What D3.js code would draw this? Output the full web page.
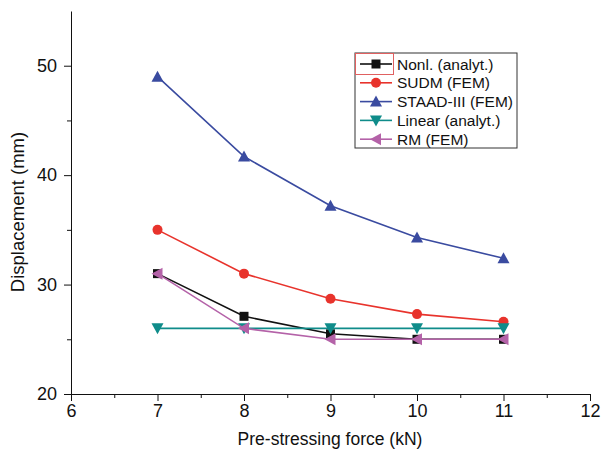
<!DOCTYPE html>
<html>
<head>
<meta charset="utf-8">
<script src="https://cdn.jsdelivr.net/npm/d3@7"></script>
<style>
  body { margin: 0; background: #fff; }
  text { font-family: "Liberation Sans", Arial, sans-serif; }
</style>
</head>
<body>
<svg width="601" height="455"></svg>
<script>
var forces = [7, 8, 9, 10, 11];
var nonl   = [31, 27.1, 25.5, 25, 25];
var sudm   = [35, 31, 28.7, 27.3, 26.6];
var staad  = [49, 41.7, 37.2, 34.3, 32.4];
var linear = [26, 26, 26, 26, 26];
var rm     = [31, 26, 25, 25, 25];

var seriesNames = ["Nonl. (analyt.)", "SUDM (FEM)", "STAAD-III (FEM)", "Linear (analyt.)", "RM (FEM)"];
var seriesVals = [nonl, sudm, staad, linear, rm];
var colors = ["#111111", "#e8332c", "#3a4ba0", "#0f8c8a", "#b462a8"];
var symbols = ["square", "circle", "up", "down", "left"];

var xTicks = [6, 7, 8, 9, 10, 11, 12];
var yTicks = [20, 30, 40, 50];

var svg = d3.select("svg");

var x = d3.scaleLinear().domain([6, 12]).range([71, 590]);
var y = d3.scaleLinear().domain([20, 55]).range([394, 11]);

// minor ticks
svg.append("g")
    .attr("transform", "translate(0,394)")
    .call(d3.axisBottom(x).tickValues(d3.range(6.5, 12, 1)).tickSize(4).tickFormat(""))
    .call(function(g) { g.select(".domain").remove(); });
svg.append("g")
    .attr("transform", "translate(71,0)")
    .call(d3.axisLeft(y).tickValues([25, 35, 45]).tickSize(4).tickFormat(""))
    .call(function(g) { g.select(".domain").remove(); });

var xAxis = svg.append("g")
    .attr("transform", "translate(0,394)")
    .call(d3.axisBottom(x).tickValues(xTicks).tickSize(7).tickSizeOuter(0)
      .tickPadding(3).tickFormat(d3.format("d")));
xAxis.selectAll("text").style("font-size", "18px").attr("fill", "#111");

var yAxis = svg.append("g")
    .attr("transform", "translate(71,0)")
    .call(d3.axisLeft(y).tickValues(yTicks).tickSize(7).tickSizeOuter(0)
      .tickPadding(7).tickFormat(d3.format("d")));
yAxis.selectAll("text").style("font-size", "18px").attr("fill", "#111");

svg.selectAll(".domain, .tick line").attr("stroke", "#111");

svg.append("text")
    .attr("x", 330).attr("y", 445)
    .attr("text-anchor", "middle")
    .style("font-size", "17.5px")
    .attr("fill", "#111")
    .text("Pre-stressing force (kN)");

svg.append("text")
    .attr("transform", "translate(24,212) rotate(-90)")
    .attr("text-anchor", "middle")
    .style("font-size", "18.5px")
    .attr("fill", "#111")
    .text("Displacement (mm)");

function drawMarker(g, type, color) {
  if (type == "square") {
    g.append("rect").attr("x", -4.5).attr("y", -4.5).attr("width", 9).attr("height", 9).attr("fill", color);
  } else if (type == "circle") {
    g.append("circle").attr("r", 5).attr("fill", color);
  } else {
    var pts = {
      up: "0,-6 6,5 -6,5",
      down: "0,6 6,-5 -6,-5",
      left: "-6,0 5,-6 5,6"
    }[type];
    g.append("polygon").attr("points", pts).attr("fill", color);
  }
}

var line = d3.line()
    .x(function(d) { return x(d[0]); })
    .y(function(d) { return y(d[1]); });

seriesVals.forEach(function(vals, i) {
  var pts = forces.map(function(f, j) { return [f, vals[j]]; });
  svg.append("path")
      .attr("d", line(pts))
      .attr("fill", "none")
      .attr("stroke", colors[i])
      .attr("stroke-width", 1.6);
  svg.append("g").selectAll("g")
    .data(pts)
    .enter().append("g")
      .attr("transform", function(d) { return "translate(" + x(d[0]) + "," + y(d[1]) + ")"; })
      .each(function() { drawMarker(d3.select(this), symbols[i], colors[i]); });
});

// legend
var leg = svg.append("g");
leg.append("rect")
    .attr("x", 355).attr("y", 53).attr("width", 162).attr("height", 95)
    .attr("fill", "#fff").attr("stroke", "#333").attr("stroke-width", 1);
leg.append("rect")
    .attr("x", 355.5).attr("y", 53.5).attr("width", 38).attr("height", 21)
    .attr("fill", "none").attr("stroke", "#e06060").attr("stroke-width", 1);

seriesNames.forEach(function(name, i) {
  var yy = 64 + i * 18.8;
  leg.append("line")
      .attr("x1", 360).attr("x2", 392).attr("y1", yy).attr("y2", yy)
      .attr("stroke", colors[i]).attr("stroke-width", 1.6);
  var m = leg.append("g").attr("transform", "translate(376," + yy + ")");
  drawMarker(m, symbols[i], colors[i]);
  leg.append("text")
      .attr("x", 397).attr("y", yy + 5.5)
      .style("font-size", "15.5px")
      .attr("fill", "#111")
      .text(name);
});
</script>
</body>
</html>
